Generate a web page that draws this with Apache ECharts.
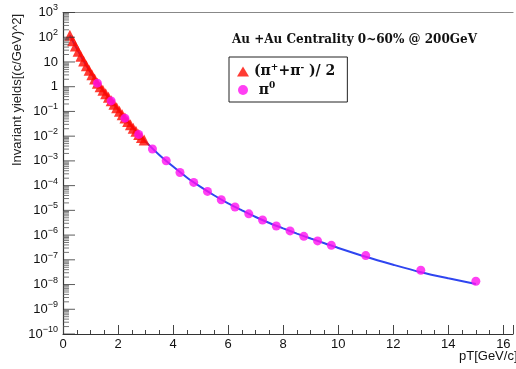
<!DOCTYPE html>
<html>
<head>
<meta charset="utf-8">
<script src="https://cdn.jsdelivr.net/npm/echarts@6/dist/echarts.min.js"></script>
<style>
  html, body { margin: 0; padding: 0; background: #fff; }
  #chart { width: 516px; height: 369px; }
</style>
</head>
<body>
<div id="chart"></div>
<script>
// Charged pion spectrum, (pi+ + pi-)/2
const chargedPt = [0.25, 0.35, 0.45, 0.55, 0.65, 0.75, 0.85, 0.95, 1.05, 1.15,
  1.25, 1.35, 1.45, 1.55, 1.65, 1.75, 1.85, 1.95, 2.05, 2.15,
  2.25, 2.35, 2.45, 2.55, 2.65, 2.75, 2.85, 2.95];
const chargedYield = [120, 72.4, 44.2, 27.2, 17.2, 11.0, 7.08, 4.62, 3.05, 2.04,
  1.38, 0.989, 0.711, 0.513, 0.372, 0.269, 0.195, 0.141, 0.102, 0.0741,
  0.0537, 0.0394, 0.0288, 0.0211, 0.0157, 0.0116, 0.00891, 0.00692];

// Neutral pion spectrum
const pi0Pt = [1.25, 1.75, 2.25, 2.75, 3.25, 3.75, 4.25, 4.75, 5.25, 5.75,
  6.25, 6.75, 7.25, 7.75, 8.25, 8.75, 9.25, 9.75, 11, 13, 15];
const pi0Yield = [1.39, 0.267, 0.0535, 0.0118, 3.03e-3, 1.01e-3, 3.40e-4, 1.35e-4, 5.82e-5, 2.69e-5,
  1.37e-5, 7.20e-6, 4.08e-6, 2.34e-6, 1.47e-6, 8.89e-7, 5.80e-7, 3.85e-7, 1.48e-7, 3.77e-8, 1.36e-8];

// Fit curve
const fitPt = [0.25, 0.5, 0.75, 1.0, 1.5, 2.0, 2.5, 3.0, 3.5, 4.0, 4.5, 5.0, 5.5, 6.0,
  6.5, 7.0, 7.5, 8.0, 8.5, 9.0, 9.5, 10, 11, 12, 13, 14, 15];
const fitYield = [120, 34.7, 11.0, 3.76, 0.603, 0.120, 0.0245, 6.03e-3, 1.74e-3, 5.89e-4, 2.14e-4, 8.91e-5, 3.98e-5, 1.91e-5,
  1.00e-5, 5.37e-6, 3.09e-6, 1.86e-6, 1.15e-6, 7.24e-7, 4.68e-7, 3.02e-7, 1.32e-7, 6.31e-8, 3.16e-8, 1.78e-8, 1.05e-8];

// Axis ticks
const xTicks = [0, 2, 4, 6, 8, 10, 12, 14, 16];
const yDecades = [-10, -9, -8, -7, -6, -5, -4, -3, -2, -1, 0, 1, 2, 3];

const yMajor = yDecades.map(e => Math.pow(10, e));
// minor log ticks at 2..9 x 10^n
const yMinor = [];
yDecades.slice(0, -1).forEach(e => {
  for (let m = 2; m <= 9; m++) yMinor.push(m * Math.pow(10, e));
});

const zip = (xs, ys) => xs.map((x, i) => [x, ys[i]]);

const sans = 'Liberation Sans, Arial, sans-serif';
const serif = 'DejaVu Serif, Liberation Serif, serif';

const legendText = {
  charged: '{b|(π}{s|+}{b|+π}{s|-}{b| )/ 2}',
  pi0: '{b| π}{s|0}'
};

// tick marks on the log axis, drawn as thin bars anchored at pT = 0
const tickSeries = (name, values, len, color) => ({
  name, type: 'scatter', silent: true, clip: false, z: 5,
  symbol: 'rect', symbolSize: [len, 1], symbolOffset: [len / 2, 0],
  itemStyle: { color },
  data: values.map(v => [0, v])
});

const chart = echarts.init(document.getElementById('chart'));
chart.setOption({
  animation: false,
  backgroundColor: '#fff',
  grid: { left: 63, top: 12.5, right: 1, bottom: 35, show: false },
  title: {
    text: 'Au +Au Centrality 0~60% @ 200GeV',
    left: 227, top: 29,
    textStyle: { fontFamily: serif, fontWeight: 'bold', fontSize: 12, color: '#111' }
  },
  legend: {
    orient: 'vertical',
    left: 229, top: 57,
    padding: [6, 12, 5, 8],
    borderColor: '#222', borderWidth: 1,
    itemGap: 3,
    itemWidth: 12, itemHeight: 10,
    data: [
      { name: 'charged', icon: 'triangle' },
      { name: 'pi0', icon: 'circle' }
    ],
    formatter: name => legendText[name],
    textStyle: {
      rich: {
        b: { fontFamily: serif, fontWeight: 'bold', fontSize: 14, color: '#111' },
        s: { fontFamily: serif, fontWeight: 'bold', fontSize: 9, color: '#111', padding: [0, 0, 8, 0] }
      }
    }
  },
  xAxis: [{
    type: 'value', min: 0, max: 16.35, interval: 2,
    axisLine: { onZero: false, lineStyle: { color: '#333', width: 1.2 } },
    axisTick: { show: true, inside: true, length: 9, lineStyle: { color: '#444' } },
    minorTick: { show: true, splitNumber: 4, length: 4, lineStyle: { color: '#444' } },
    splitLine: { show: false },
    axisLabel: {
      margin: 4, fontFamily: sans, fontSize: 13, color: '#111',
      formatter: v => (xTicks.indexOf(v) >= 0 ? String(v) : '')
    }
  }, {
    type: 'value', min: 0, max: 16.35, position: 'top',
    axisLine: { show: true, onZero: false, lineStyle: { color: '#888', width: 1.2 } },
    axisTick: { show: false }, axisLabel: { show: false }, splitLine: { show: false }
  }],
  yAxis: {
    type: 'log', min: 1e-10, max: 1e3, logBase: 10,
    axisLine: { show: true, onZero: false, lineStyle: { color: '#333', width: 1.2 } },
    axisTick: { show: false },
    splitLine: { show: false },
    axisLabel: {
      customValues: yMajor,
      margin: 5,
      formatter: v => {
        const e = Math.round(Math.log10(v));
        if (e === 0) return '{b|1}';
        if (e === 1) return '{b|10}';
        return '{b|10}{s|' + (e < 0 ? '\u2212' + (-e) : e) + '}';
      },
      rich: {
        b: { fontFamily: sans, fontSize: 13, color: '#111' },
        s: { fontFamily: sans, fontSize: 9, color: '#111', padding: [0, 0, 9, 0] }
      }
    }
  },
  graphic: [
    {
      type: 'text', x: 17, y: 90, rotation: Math.PI / 2,
      style: { text: 'Invariant yields[(c/GeV)^2]', fontFamily: sans, fontSize: 13, fill: '#222',
               align: 'center', verticalAlign: 'middle' }
    },
    {
      type: 'text', x: 459, y: 356,
      style: { text: 'pT[GeV/c]', fontFamily: sans, fontSize: 13, fill: '#111', verticalAlign: 'middle' }
    }
  ],
  series: [
    tickSeries('yMajorTicks', yMajor, 12, '#333'),
    tickSeries('yMinorTicks', yMinor, 6, '#555'),
    {
      name: 'fit', type: 'line', smooth: 0.3, showSymbol: false, z: 2,
      lineStyle: { color: '#2f45f0', width: 2 },
      data: zip(fitPt, fitYield)
    },
    {
      name: 'charged', type: 'scatter', symbol: 'triangle', symbolSize: 11, z: 3,
      itemStyle: { color: '#ff0a00' },
      data: zip(chargedPt, chargedYield)
    },
    {
      name: 'pi0', type: 'scatter', symbol: 'circle', symbolSize: 9, z: 4,
      itemStyle: { color: '#ff10f0' },
      data: zip(pi0Pt, pi0Yield)
    }
  ]
});
</script>
</body>
</html>
